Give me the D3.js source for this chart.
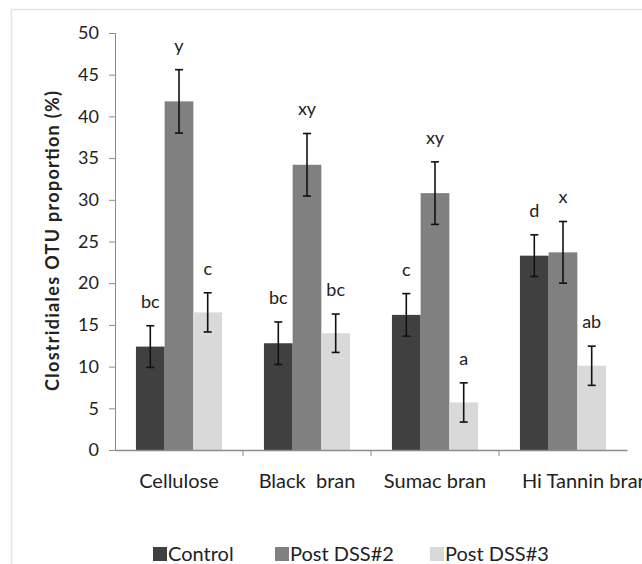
<!DOCTYPE html>
<html>
<head>
<meta charset="utf-8">
<script src="https://cdn.jsdelivr.net/npm/d3@7"></script>
<style>
  body { margin: 0; background: #fff; }
  text { font-family: Lato, "Open Sans", sans-serif; fill: #222; }
</style>
</head>
<body>
<script>
// diets on the x axis
const diets = ["Cellulose", "Black  bran", "Sumac bran", "Hi Tannin bran"];
const series = ["Control", "Post DSS#2", "Post DSS#3"];
const colors = ["#404040", "#808080", "#d9d9d9"];

// mean proportion (%) per diet, one array per series
const control = [12.4, 12.8, 16.2, 23.3];
const post2 = [41.8, 34.2, 30.8, 23.7];
const post3 = [16.5, 14.0, 5.7, 10.1];

// standard error
const controlErr = [2.5, 2.55, 2.55, 2.5];
const post2Err = [3.8, 3.75, 3.75, 3.7];
const post3Err = [2.35, 2.3, 2.35, 2.35];

// significance letters
const controlSig = ["bc", "bc", "c", "d"];
const post2Sig = ["y", "xy", "xy", "x"];
const post3Sig = ["c", "bc", "a", "ab"];

const yTicks = [0, 5, 10, 15, 20, 25, 30, 35, 40, 45, 50];

const width = 642, height = 564;
const margin = { top: 33, left: 115, right: 15, bottom: 114 };

const svg = d3.select("body").append("svg")
  .attr("width", width)
  .attr("height", height);

// light frame of the chart area
svg.append("path")
  .attr("d", "M11.5," + height + "V9.5H" + width)
  .attr("fill", "none")
  .attr("stroke", "#e3e3e3")
  .attr("stroke-width", 1.5);

const x = d3.scaleBand()
  .domain(diets)
  .range([margin.left, width - margin.right])
  .paddingInner(0)
  .paddingOuter(0);

const xs = d3.scaleBand()
  .domain(series)
  .range([0, x.bandwidth()])
  .paddingOuter(0.73)
  .paddingInner(0.0);

const y = d3.scaleLinear()
  .domain([0, 50])
  .range([height - margin.bottom, margin.top]);

// rows for drawing
const vals = [control, post2, post3];
const errs = [controlErr, post2Err, post3Err];
const sigs = [controlSig, post2Sig, post3Sig];
const rows = [];
diets.forEach((d, i) => {
  series.forEach((s, j) => {
    rows.push({ diet: d, series: s, color: colors[j], v: vals[j][i], e: errs[j][i], sig: sigs[j][i] });
  });
});

// y axis
const yAxis = svg.append("g")
  .attr("transform", "translate(" + margin.left + ",0)")
  .call(d3.axisLeft(y).tickValues(yTicks).tickSize(6).tickPadding(10));
yAxis.select(".domain").attr("stroke", "#8c8c8c");
yAxis.selectAll(".tick line").attr("stroke", "#8c8c8c");
yAxis.selectAll(".tick text")
  .style("font-size", "18px")
  .attr("fill", "#222");

// bars
svg.append("g").selectAll("rect")
  .data(rows)
  .join("rect")
  .attr("x", d => x(d.diet) + xs(d.series))
  .attr("y", d => y(d.v))
  .attr("width", xs.bandwidth())
  .attr("height", d => y(0) - y(d.v))
  .attr("fill", d => d.color);

// error bars
const eb = svg.append("g").attr("stroke", "#111").attr("stroke-width", 1.6);
rows.forEach(d => {
  const cx = x(d.diet) + xs(d.series) + xs.bandwidth() / 2;
  eb.append("line").attr("x1", cx).attr("x2", cx).attr("y1", y(d.v + d.e)).attr("y2", y(d.v - d.e));
  eb.append("line").attr("x1", cx - 4).attr("x2", cx + 4).attr("y1", y(d.v + d.e)).attr("y2", y(d.v + d.e));
  eb.append("line").attr("x1", cx - 4).attr("x2", cx + 4).attr("y1", y(d.v - d.e)).attr("y2", y(d.v - d.e));
});

// letters
svg.append("g").selectAll("text")
  .data(rows)
  .join("text")
  .attr("x", d => x(d.diet) + xs(d.series) + xs.bandwidth() / 2)
  .attr("y", d => y(d.v + d.e) - 18)
  .attr("text-anchor", "middle")
  .style("font-size", "18px")
  .text(d => d.sig);

// x axis
const xAxis = svg.append("g")
  .attr("transform", "translate(0," + y(0) + ")")
  .call(d3.axisBottom(x).tickSize(0).tickPadding(24));
xAxis.select(".domain").attr("stroke", "#8c8c8c").attr("stroke-width", 1.5);
xAxis.selectAll(".tick text")
  .style("font-size", "20px")
  .style("white-space", "pre")
  .attr("fill", "#222");
xAxis.selectAll(".tick text").filter(d => d === "Hi Tannin bran")
  .attr("text-anchor", "start")
  .attr("x", -41);

// separators between groups
svg.append("g").selectAll("line")
  .data(diets.slice(1))
  .join("line")
  .attr("x1", d => x(d)).attr("x2", d => x(d))
  .attr("y1", y(0)).attr("y2", y(0) + 6)
  .attr("stroke", "#8c8c8c");

// y title
svg.append("text")
  .attr("transform", "translate(59,241) rotate(-90)")
  .attr("text-anchor", "middle")
  .style("font-size", "18px")
  .style("font-weight", "bold")
  .attr("textLength", 300)
  .text("Clostridiales OTU proportion (%)");

// legend
const legX = [153, 275, 430];
const leg = svg.append("g").selectAll("g")
  .data(series)
  .join("g")
  .attr("transform", (d, i) => "translate(" + legX[i] + ",547)");
leg.append("rect")
  .attr("width", 14).attr("height", 14)
  .attr("fill", (d, i) => colors[i]);
leg.append("text")
  .attr("x", 15)
  .attr("y", 14)
  .style("font-size", "20px")
  .text(d => d);
</script>
</body>
</html>
